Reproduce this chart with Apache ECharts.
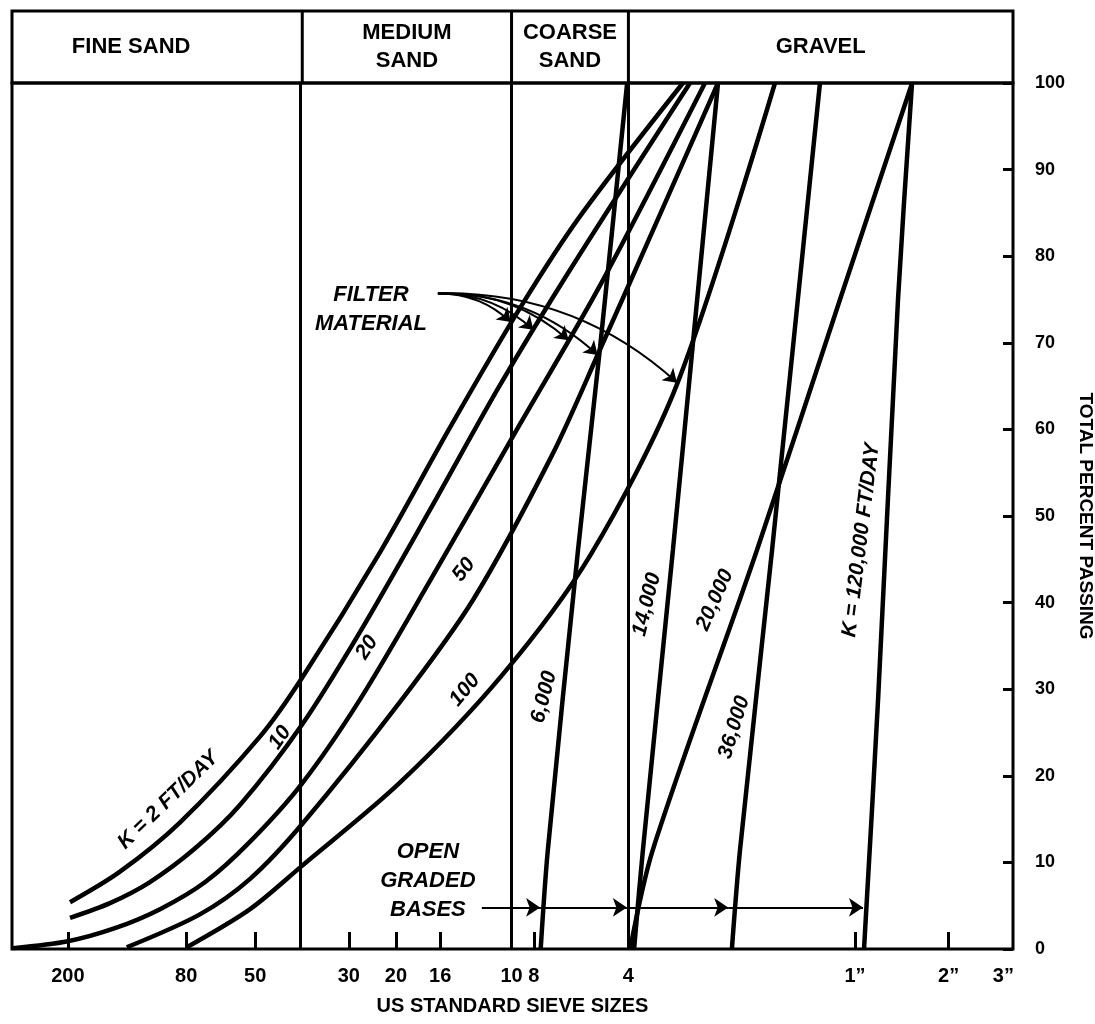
<!DOCTYPE html>
<html>
<head>
<meta charset="utf-8">
<title>Permeability of filter material and open graded bases</title>
<script src="https://cdn.jsdelivr.net/npm/echarts@6/dist/echarts.min.js"></script>
<style>
  html, body { margin: 0; padding: 0; background: #fff; }
  #main { width: 1095px; height: 1024px; }
</style>
</head>
<body>
<div id="main"></div>
<script>
// US standard sieve openings (mm) and the labels printed under them
const sieveSizes = [0.075, 0.18, 0.3, 0.6, 0.85, 1.18, 2.0, 2.36, 4.75, 25.4, 50.8, 76.2];
const sieveLabels = ['200', '80', '50', '30', '20', '16', '10', '8', '4', '1\u201D', '2\u201D', '3\u201D'];
const tickSizes = [0.075, 0.18, 0.3, 0.6, 0.85, 1.18, 2.36, 25.4, 50.8];
// soil class boundaries: #40, #10, #4
const zoneBounds = [0.425, 2.0, 4.75];
const zoneNames = ['FINE SAND', 'MEDIUM\nSAND', 'COARSE\nSAND', 'GRAVEL'];

// gradation curves, [size mm, total percent passing]
const k2 = [[0.0762, 5.4], [0.110, 8.9], [0.1718, 14.6], [0.3103, 24.5], [0.424, 31.3],
  [0.7553, 45.8], [1.2676, 60.2], [2.1284, 74.0], [3.3178, 84.6], [7.111, 100]];
const k10 = [[0.0762, 3.6], [0.1024, 5.3], [0.1373, 7.7], [0.192, 11.6], [0.2675, 16.6], [0.424, 25.9],
  [0.6512, 36.6], [1.0934, 50.7], [1.8354, 65.1], [3.081, 78.4], [7.492, 100]];
const k20 = [[0.04995, 0.1], [0.07506, 0.9], [0.1062, 2.4], [0.1484, 4.6], [0.2067, 7.7], [0.2889, 12.4],
  [0.424, 19.1], [0.6512, 28.8], [1.0934, 42.5], [2.1284, 60.6], [3.8467, 76.6], [8.37, 100]];
const k50 = [[0.116, 0.2], [0.1992, 4.0], [0.2889, 8.1], [0.424, 14.4], [0.8751, 28.5], [1.5034, 40.3],
  [2.6968, 57.0], [3.8467, 69.2], [5.9967, 84.8], [9.218, 100]];
const k100 = [[0.1809, 0.2], [0.2889, 4.6], [0.424, 9.6], [0.8751, 19.2], [1.8625, 31.6], [3.5727, 45.4],
  [6.8044, 65.2], [14.053, 100]];
const k6000 = [[2.4814, 0], [2.6173, 11.5], [3.2717, 46.1], [3.8541, 69.6], [4.7056, 100]];
const k14000 = [[4.953, 0], [5.290, 11.5], [6.6037, 46.1], [7.6081, 68.9], [9.218, 100]];
const k20000 = [[4.8109, 0], [5.696, 11.5], [12.308, 46.1], [22.736, 75], [38.768, 100]];
const k36000 = [[10.215, 0], [10.852, 11.5], [13.755, 46.1], [19.601, 100]];
const k120000 = [[27.162, 0], [30.135, 28.8], [34.927, 75], [38.747, 100]];

// curve captions: text, size, percent, angle
const captionTexts = ['K = 2 FT/DAY', '10', '20', '50', '100', '6,000', '14,000', '20,000', '36,000', 'K = 120,000 FT/DAY'];
const captionSizes = [0.1576, 0.3605, 0.6862, 1.4057, 1.4161, 2.544, 5.443, 9.016, 10.385, 26.583];
const captionPercents = [17.2, 24.4, 34.8, 43.8, 29.9, 29.1, 39.8, 40.3, 25.6, 47.2];
const captionAngles = [44, 55, 57, 52, 50, 76, 76, 66, 73, 83];

// "FILTER MATERIAL" pointers: from the text to each filter curve
const filterFrom = [1.1597, 75.7];
const filterTo = [[1.9907, 72.4], [2.3517, 71.5], [3.0517, 70.3], [3.7827, 68.6], [6.8044, 65.4]];
// "OPEN GRADED BASES" pointer stops along 4.8 %
const basesStops = [1.6053, 2.4709, 4.6951, 9.939, 26.947];
const basesLevel = 4.8;

const FONT = '"Liberation Sans", Arial, sans-serif';
const chart = echarts.init(document.getElementById('main'));

function sieveLabel(v) {
  for (let i = 0; i < sieveSizes.length; i++) {
    if (Math.abs(Math.log10(v / sieveSizes[i])) < 0.004) return sieveLabels[i];
  }
  return '';
}

function curve(name, pts) {
  return {
    type: 'line', name: name, data: pts, smooth: 0.3,
    showSymbol: false, silent: true, lineStyle: { color: '#000', width: 4.5 }, z: 3
  };
}

const arrowLines = filterTo.map(p => ({ coords: [filterFrom, p] }));
const basesLines = [];
for (let i = 0; i < basesStops.length - 1; i++) {
  basesLines.push({ coords: [[basesStops[i], basesLevel], [basesStops[i + 1], basesLevel]] });
}

const option = {
  backgroundColor: '#fff',
  animation: false,
  grid: {
    left: 12, right: 82, top: 83, bottom: 75, outerBoundsMode: 'none', containLabel: false,
    show: true, borderColor: '#000', borderWidth: 3
  },
  xAxis: {
    type: 'log', logBase: 10, min: 0.0496, max: 81.8,
    name: 'US STANDARD SIEVE SIZES', nameLocation: 'middle', nameGap: 47,
    nameTextStyle: { fontFamily: FONT, fontWeight: 'bold', fontSize: 20, color: '#000' },
    axisLine: { show: false },
    axisTick: { inside: true, length: 17, customValues: tickSizes, lineStyle: { color: '#000', width: 3 } },
    axisLabel: {
      customValues: sieveSizes, formatter: sieveLabel, margin: 17,
      fontFamily: FONT, fontWeight: 'bold', fontSize: 20, color: '#000'
    },
    splitLine: { show: false }
  },
  yAxis: {
    type: 'value', position: 'right', min: 0, max: 100, interval: 10,
    name: 'TOTAL PERCENT PASSING', nameLocation: 'middle', nameRotate: -90, nameGap: 50,
    nameTextStyle: { fontFamily: FONT, fontWeight: 'bold', fontSize: 19, color: '#000' },
    axisLine: { show: false },
    axisTick: { inside: true, length: 10, lineStyle: { color: '#000', width: 3 } },
    axisLabel: { margin: 22, fontFamily: FONT, fontWeight: 'bold', fontSize: 18, color: '#000' },
    splitLine: { show: false }
  },
  series: [
    {
      type: 'line', data: [], silent: true,
      markLine: {
        silent: true, symbol: 'none', label: { show: false },
        lineStyle: { color: '#000', width: 3, type: 'solid' },
        data: zoneBounds.map(v => ({ xAxis: v }))
      }
    },
    curve('2', k2), curve('10', k10), curve('20', k20), curve('50', k50), curve('100', k100),
    curve('6000', k6000), curve('14000', k14000), curve('20000', k20000), curve('36000', k36000),
    curve('120000', k120000),
    {
      type: 'lines', coordinateSystem: 'cartesian2d', silent: true, z: 4,
      symbol: ['none', 'arrow'], symbolSize: [0, 13],
      lineStyle: { color: '#000', width: 2, curveness: 0.2, opacity: 1 },
      data: arrowLines
    },
    {
      type: 'lines', coordinateSystem: 'cartesian2d', silent: true, z: 4,
      symbol: ['none', 'arrow'], symbolSize: [0, 14],
      lineStyle: { color: '#000', width: 2, curveness: 0, opacity: 1 },
      data: basesLines
    },
    {
      type: 'scatter', silent: true, symbolSize: 0, z: 5,
      itemStyle: { opacity: 1 },
      label: {
        show: true, position: 'inside', color: '#000', opacity: 1, fontFamily: FONT,
        fontStyle: 'italic', fontWeight: 'bold', fontSize: 21, formatter: p => p.data.text
      },
      data: captionTexts.map((t, i) => ({
        value: [captionSizes[i], captionPercents[i]], text: t, label: { rotate: captionAngles[i] }
      })).concat([
        { value: [0.7068, 73.8], text: 'FILTER\nMATERIAL', label: { rotate: 0, lineHeight: 29, fontSize: 22 } },
        { value: [1.0769, 7.9], text: 'OPEN\nGRADED\nBASES', label: { rotate: 0, lineHeight: 29, fontSize: 22 } }
      ])
    }
  ]
};

chart.setOption(option);

// header band with the soil classes, aligned with the class boundaries on the axis
const hTop = 11, hBottom = 83, hLeft = 12, hRight = 1013;
const xs = [hLeft].concat(zoneBounds.map(v => chart.convertToPixel({ xAxisIndex: 0 }, v))).concat([hRight]);
const header = [{
  type: 'rect', shape: { x: hLeft, y: hTop, width: hRight - hLeft, height: hBottom - hTop },
  style: { fill: 'none', stroke: '#000', lineWidth: 3 }, silent: true
}];
for (let i = 1; i < xs.length - 1; i++) {
  header.push({ type: 'line', shape: { x1: xs[i], y1: hTop, x2: xs[i], y2: hBottom },
    style: { stroke: '#000', lineWidth: 3 }, silent: true });
}
zoneNames.forEach((name, i) => {
  header.push({
    type: 'text', x: (xs[i] + xs[i + 1]) / 2 - (i === 0 ? 26 : 0), y: (hTop + hBottom) / 2, silent: true,
    style: { text: name, fill: '#000', font: 'bold 22px ' + FONT, align: 'center', verticalAlign: 'middle', lineHeight: 28 }
  });
});
chart.setOption({ graphic: header });
</script>
</body>
</html>
